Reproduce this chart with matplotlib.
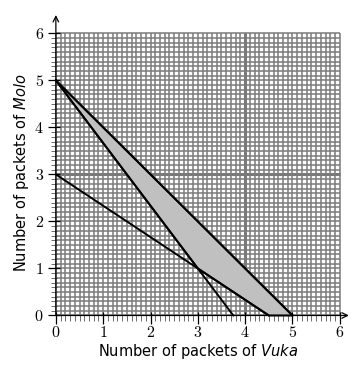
import matplotlib
matplotlib.use("Agg")
import matplotlib.pyplot as plt
import numpy as np

plt.rcParams['mathtext.fontset'] = 'cm'

# constraint lines (x intercept, y intercept)
lines_x = [5, 3.75, 4.5]
lines_y = [5, 5, 3]
# feasible region corners
region_x = [0, 3, 4.5, 5]
region_y = [5, 1, 0, 0]
ticks = [0, 1, 2, 3, 4, 5, 6]

fig = plt.figure(figsize=(3.64, 3.70), dpi=100)
ax = fig.add_axes([0.147, 0.141, 0.819, 0.826])
ax.set_xlim(-0.05, 6.25)
ax.set_ylim(-0.05, 6.45)

# fine grid, every 0.1
g = np.round(np.arange(0, 6.01, 0.1), 2)
ax.vlines(g, 0, 6, color='#7a7a7a', lw=1.1, zorder=1)
ax.hlines(g, 0, 6, color='#7a7a7a', lw=1.1, zorder=1)
ax.vlines([4], 0, 6, color='#7a7a7a', lw=2.2, zorder=1)
ax.hlines([3], 0, 6, color='#7a7a7a', lw=2.2, zorder=1)

ax.fill(region_x, region_y, color='#c0c0c0', zorder=2)
ax.plot(region_x + [region_x[0]], region_y + [region_y[0]], color='black', lw=1.4, zorder=3)
for a, b in zip(lines_x, lines_y):
    ax.plot([0, a], [b, 0], color='black', lw=1.4, zorder=3)

# axes with arrows
for s in ax.spines.values():
    s.set_visible(False)
ax.annotate('', xy=(6.25, 0), xytext=(-0.05, 0),
            arrowprops=dict(arrowstyle='->', lw=0.9, color='black'), zorder=4)
ax.annotate('', xy=(0, 6.45), xytext=(0, -0.05),
            arrowprops=dict(arrowstyle='->', lw=0.9, color='black'), zorder=4)

ax.set_xticks(ticks)
ax.set_yticks(ticks)
ax.set_xticklabels([f'${t}$' for t in ticks], fontsize=11.5)
ax.set_yticklabels([f'${t}$' for t in ticks], fontsize=11.5)
ax.set_xticks(g, minor=True)
ax.set_yticks(g, minor=True)
ax.tick_params(which='major', direction='inout', length=8, width=0.9)
ax.tick_params(axis='x', which='major', pad=1.5)
ax.tick_params(axis='y', which='major', pad=3)
ax.tick_params(which='minor', direction='inout', length=4, width=0.6, color='#555555')

fig.text(0.545, 0.05, 'Number of packets of $\\mathit{Vuka}$', ha='center', va='center',
         fontsize=10.5, math_fontfamily='dejavusans')
fig.text(0.058, 0.532, 'Number of packets of $\\mathit{Molo}$', ha='center', va='center',
         fontsize=10.5, rotation=90, math_fontfamily='dejavusans')

fig.savefig('out.png', dpi=100)
